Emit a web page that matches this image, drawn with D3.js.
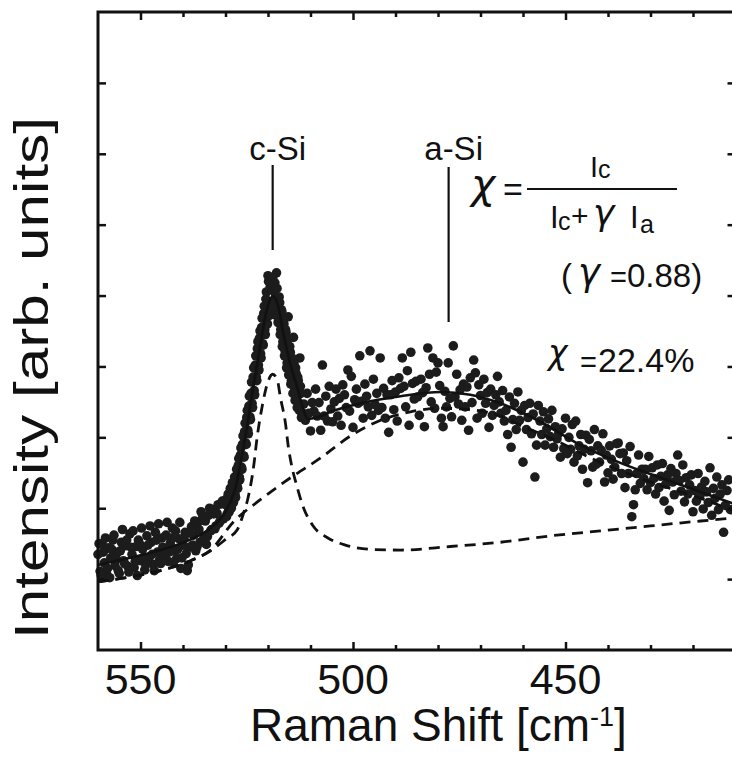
<!DOCTYPE html>
<html><head><meta charset="utf-8">
<script src="https://cdn.jsdelivr.net/npm/d3@7"></script>
<style>
body{margin:0;background:#fff}
svg{display:block}
text{font-family:"Liberation Sans",Arial,Helvetica,sans-serif;fill:#111}
.greek{font-family:"DejaVu Sans",sans-serif;font-style:italic}
</style>
</head><body>
<svg id="chart" width="732" height="766"></svg>
<script>
// ---------------- data ----------------
const xMajorTicks = [550, 500, 450];
const xMinorTicks = [540, 530, 520, 510, 490, 480, 470, 460, 440, 430, 420];
const yTicks = [1, 2, 3, 4, 5, 6, 7, 8];

// measured spectrum [Raman shift (cm-1), intensity (arb.)]
const spectrumLeft = [[560.0,1.35],[559.5,1.11],[559.0,1.49],[558.5,1.23],[558.0,1.08],[557.5,1.44],[557.0,1.30],[556.5,1.55],[556.0,1.19],[555.5,1.37],[555.0,1.08],[554.5,1.52],[554.0,1.26],[553.5,1.47],[553.0,1.18],[552.5,1.64],[552.0,1.35],[551.5,1.16],[551.0,1.46],[550.5,1.55],[550.0,1.26],[549.5,1.42],[549.0,1.13],[548.5,1.61],[548.0,1.30],[547.5,1.52],[547.0,1.21],[546.5,1.66],[546.0,1.38],[545.5,1.27],[545.0,1.58],[544.5,1.33],[544.0,1.62],[543.5,1.25],[543.0,1.51],[542.5,1.72],[542.0,1.40],[541.5,1.29],[541.0,1.57],[540.5,1.15],[540.0,1.48],[539.5,1.66],[539.0,1.12],[538.5,1.45],[538.0,1.74],[537.5,1.62],[537.0,1.40],[536.5,1.80],[536.0,1.52],[535.5,1.85],[535.0,1.60],[534.5,1.49],[534.0,1.90],[533.5,1.68],[533.0,1.98],[532.5,1.71],[532.0,1.93],[531.5,1.79],[531.0,2.06],[530.5,1.85]];
const spectrumLeftB = [[559.75,1.50],[559.25,1.05],[558.75,1.38],[558.25,1.58],[557.75,1.15],[557.25,1.02],[556.75,1.42],[556.25,1.62],[555.75,1.28],[555.25,1.12],[554.75,1.40],[554.25,1.70],[553.75,1.22],[553.25,1.55],[552.75,1.10],[552.25,1.45],[551.75,1.68],[551.25,1.25],[550.75,1.05],[550.25,1.50],[549.75,1.72],[549.25,1.30],[548.75,1.20],[548.25,1.48],[547.75,1.75],[547.25,1.35],[546.75,1.12],[546.25,1.55],[545.75,1.78],[545.25,1.22],[544.75,1.45],[544.25,1.30],[543.75,1.80],[543.25,1.38],[542.75,1.58],[542.25,1.24],[541.75,1.68],[541.25,1.42],[540.75,1.80],[540.25,1.30],[539.75,1.58],[539.25,1.36],[538.75,1.20],[538.25,1.65],[537.75,1.48],[537.25,1.82],[536.75,1.45],[536.25,1.70],[535.75,1.95],[535.25,1.55],[534.75,1.82],[534.25,1.60],[533.75,2.00],[533.25,1.70],[532.75,1.92],[532.25,1.75],[531.75,2.05],[531.25,1.82],[530.75,2.10]];
const spectrumPeak = [[530.0,2.05],[529.75,1.88],[529.5,2.15],[529.25,1.97],[529.0,2.22],[528.75,2.02],[528.5,2.30],[528.25,2.11],[528.0,2.38],[527.75,2.19],[527.5,2.45],[527.25,2.31],[527.0,2.60],[526.75,2.44],[526.5,2.75],[526.25,2.58],[526.0,2.90],[525.75,2.74],[525.5,3.08],[525.25,2.92],[525.0,3.28],[524.75,3.10],[524.5,3.44],[524.25,3.29],[524.0,3.62],[523.75,3.48],[523.5,3.85],[523.25,3.66],[523.0,4.02],[522.75,3.85],[522.5,4.25],[522.25,4.02],[522.0,4.40],[521.75,4.18],[521.5,4.55],[521.25,4.32],[521.0,4.75],[520.75,4.52],[520.5,4.95],[520.25,4.70],[520.0,5.28],[519.75,4.82],[519.5,5.12],[519.25,4.86],[519.0,5.15],[518.75,4.92],[518.5,5.05],[518.25,4.80],[518.0,5.32],[517.75,4.88],[517.5,4.70],[517.25,4.90],[517.0,4.52],[516.75,4.78],[516.5,4.35],[516.25,4.60],[516.0,4.22],[515.75,4.48],[515.5,4.05],[515.25,4.70],[515.0,3.95],[514.75,4.20],[514.5,3.80],[514.25,4.05],[514.0,4.41],[513.75,3.70],[513.5,3.98],[513.25,3.58],[513.0,3.85],[512.75,3.45],[512.5,4.12],[512.25,3.62],[512.0,3.35]];
const spectrumPeakB = [[529.875,2.12],[529.625,1.92],[529.375,2.20],[529.125,1.95],[528.875,2.28],[528.625,2.00],[528.375,2.36],[528.125,2.08],[527.875,2.44],[527.625,2.15],[527.375,2.55],[527.125,2.28],[526.875,2.70],[526.625,2.40],[526.375,2.85],[526.125,2.55],[525.875,3.02],[525.625,2.72],[525.375,3.20],[525.125,2.90],[524.875,3.38],[524.625,3.05],[524.375,3.58],[524.125,3.25],[523.875,3.78],[523.625,3.42],[523.375,3.98],[523.125,3.60],[522.875,4.15],[522.625,3.80],[522.375,4.35],[522.125,3.95],[521.875,4.50],[521.625,4.12],[521.375,4.68],[521.125,4.30],[520.875,4.85],[520.625,4.45],[520.375,5.05],[520.125,4.60],[519.875,5.20],[519.625,4.72],[519.375,5.22],[519.125,4.78],[518.875,5.25],[518.625,4.85],[518.375,5.18],[518.125,4.72],[517.875,5.10],[517.625,4.62],[517.375,4.98],[517.125,4.45],[516.875,4.80],[516.625,4.28],[516.375,4.66],[516.125,4.15],[515.875,4.52],[515.625,3.98],[515.375,4.38],[515.125,3.88],[514.875,4.28],[514.625,3.75],[514.375,4.12],[514.125,3.62],[513.875,4.05],[513.625,3.52],[513.375,3.90],[513.125,3.42],[512.875,3.80],[512.625,3.38],[512.375,3.72],[512.125,3.28]];
const spectrumBroad1 = [[511.6,3.47],[511.2,3.24],[510.8,3.62],[510.4,3.34],[510.0,3.09],[509.6,3.49],[509.2,3.37],[508.8,3.68],[508.4,3.30],[508.0,3.49],[507.6,3.10],[507.2,4.02],[506.8,3.30],[506.4,3.58],[506.0,3.23],[505.6,3.72],[505.2,3.40],[504.8,3.22],[504.4,3.50],[504.0,3.68],[503.6,3.30],[503.2,3.55],[502.8,3.17],[502.4,3.74],[502.0,3.60],[501.6,3.42],[501.2,3.95],[500.8,3.37],[500.4,3.86],[500.0,3.14],[499.6,3.53],[499.2,3.68],[498.8,3.48],[498.4,4.15],[498.0,3.51],[497.6,3.27],[497.2,3.75],[496.8,3.58],[496.4,3.43],[496.0,4.22],[495.6,3.31],[495.2,3.82],[494.8,3.46],[494.4,3.62],[494.0,3.38],[493.6,4.12],[493.2,3.42],[492.8,3.69],[492.4,3.27],[492.0,3.60]];
const spectrumBroad2 = [[491.6,3.07],[491.2,3.60],[490.8,3.80],[490.4,3.39],[490.0,3.64],[489.6,3.23],[489.2,3.84],[488.8,3.69],[488.4,4.12],[488.0,3.72],[487.6,3.43],[487.2,3.94],[486.8,3.17],[486.4,4.20],[486.0,3.76],[485.6,3.54],[485.2,3.79],[484.8,3.57],[484.4,3.31],[484.0,3.82],[483.6,3.63],[483.2,3.15],[482.8,3.70],[482.4,4.26],[482.0,3.89],[481.6,3.50],[481.2,4.12],[480.8,3.41],[480.4,3.92],[480.0,4.05],[479.6,3.73],[479.2,3.27],[478.8,3.15],[478.4,3.65],[478.0,3.43],[477.6,4.05],[477.2,3.55],[476.8,3.29],[476.4,4.29],[476.0,3.57],[475.6,3.89],[475.2,3.47],[474.8,3.67],[474.4,3.24],[474.0,3.75],[473.6,3.43],[473.2,3.71],[472.8,3.10],[472.4,3.84],[472.0,3.49]];
const spectrumBroad3 = [[471.6,4.09],[471.2,3.91],[470.8,3.27],[470.4,3.74],[470.0,3.59],[469.6,3.34],[469.2,3.82],[468.8,3.48],[468.4,3.63],[468.0,3.14],[467.6,3.68],[467.2,3.31],[466.8,3.45],[466.4,3.60],[466.0,3.86],[465.6,3.50],[465.2,3.34],[464.8,3.66],[464.4,3.23],[464.0,3.38],[463.6,3.04],[463.2,3.57],[462.8,2.86],[462.4,3.25],[462.0,3.48],[461.6,3.11],[461.2,3.64],[460.8,3.24],[460.4,3.38],[460.0,2.65],[459.6,3.45],[459.2,3.11],[458.8,3.28],[458.4,3.48],[458.0,3.05],[457.6,3.33],[457.2,2.44],[456.8,2.89],[456.4,3.45],[456.0,3.23],[455.6,3.04],[455.2,3.36],[454.8,2.89],[454.4,3.12],[454.0,3.26],[453.6,3.01],[453.2,3.38],[452.8,2.86],[452.4,3.15],[452.0,2.98]];
const spectrumBroad4 = [[451.6,3.06],[451.2,2.72],[450.8,3.12],[450.4,2.84],[450.0,3.27],[449.6,2.77],[449.2,3.00],[448.8,2.83],[448.4,3.18],[448.0,2.65],[447.6,3.23],[447.2,2.74],[446.8,2.88],[446.4,3.04],[446.0,2.55],[445.6,2.83],[445.2,3.03],[444.8,2.36],[444.4,2.97],[444.0,2.81],[443.6,2.58],[443.2,3.11],[442.8,2.62],[442.4,2.88],[442.0,2.65],[441.6,2.82],[441.2,3.05],[440.8,2.37],[440.4,2.75],[440.0,2.50],[439.6,2.88],[439.2,2.69],[438.8,2.41],[438.4,2.58],[438.0,2.91],[437.6,2.92],[437.2,2.77],[436.8,2.49],[436.4,2.78],[436.0,2.29],[435.6,2.67],[435.2,2.49],[434.8,2.87],[434.4,1.88],[434.0,2.05],[433.6,2.26],[433.2,2.49],[432.8,2.75],[432.4,2.35],[432.0,2.55]];
const spectrumBroad5 = [[431.6,2.42],[431.2,2.55],[430.8,2.26],[430.4,2.73],[430.0,2.36],[429.6,2.57],[429.2,2.42],[428.8,2.20],[428.4,2.61],[428.0,2.29],[427.6,2.45],[427.2,2.63],[426.8,2.10],[426.4,2.34],[426.0,2.47],[425.6,1.97],[425.2,2.56],[424.8,2.37],[424.4,2.19],[424.0,2.49],[423.6,2.75],[423.2,2.39],[422.8,2.24],[422.4,2.61],[422.0,2.09],[421.6,2.43],[421.2,2.20],[420.8,2.33],[420.4,2.47],[420.0,1.95],[419.6,2.25],[419.2,2.10],[418.8,2.49],[418.4,2.17],[418.0,2.30],[417.6,1.99],[417.2,2.38],[416.8,2.23],[416.4,2.08],[416.0,2.57],[415.6,1.90],[415.2,2.28],[414.8,2.14],[414.4,2.44],[414.0,1.98],[413.6,2.20],[413.2,2.33],[412.8,1.66],[412.4,2.04],[412.0,2.25],[411.6,2.40],[411.2,1.98]];

// fitted curves
const fitCurve = [[560.1,1.20],[552.4,1.30],[545.3,1.41],[538.2,1.56],[533.5,1.72],[530.0,1.95],[528.8,2.10],[527.6,2.30],[526.5,2.62],[524.8,3.20],[523.4,3.74],[521.8,4.30],[520.4,4.77],[518.9,4.99],[517.8,4.89],[516.4,4.47],[514.7,4.02],[513.1,3.70],[511.8,3.42],[510.7,3.26],[508.5,3.28],[505.3,3.36],[498.2,3.48],[488.8,3.58],[479.4,3.64],[472.4,3.60],[465.3,3.48],[455.9,3.22],[446.5,2.89],[437.1,2.64],[427.6,2.43],[418.2,2.23],[410.7,2.07]];
const cSiCurve = [[560.1,0.96],[552.4,1.03],[545.3,1.12],[538.2,1.26],[533.5,1.40],[530.0,1.56],[527.2,1.70],[525.8,1.92],[524.8,2.12],[523.4,2.58],[522.6,2.98],[521.3,3.46],[520.1,3.77],[518.9,3.89],[517.8,3.81],[517.1,3.57],[515.9,3.20],[515.2,2.86],[514.5,2.62],[513.3,2.33],[511.6,2.00],[509.5,1.76],[505.9,1.58],[501.8,1.48],[495.9,1.42],[488.8,1.41],[477.1,1.46],[465.3,1.52],[453.5,1.61],[441.8,1.68],[430.0,1.75],[418.2,1.82],[410.7,1.86]];
const aSiCurve = [[560.1,0.96],[552.4,1.03],[545.3,1.12],[538.2,1.26],[533.5,1.41],[528.1,1.81],[521.8,2.12],[514.7,2.43],[507.6,2.71],[500.6,3.02],[493.5,3.24],[486.5,3.36],[479.4,3.41],[472.4,3.39],[465.3,3.30],[460.6,3.17],[452.4,2.96],[444.1,2.71],[430.0,2.37],[418.2,2.14],[410.7,1.97]];

const peakMarks = [{label:"c-Si", shift:518.9, top:165, bottom:250},{label:"a-Si", shift:477.5, top:167, bottom:322}];

// ---------------- drawing ----------------
const svg = d3.select("#chart");
const W = 732, H = 766;
const L = 98, R = 735.5, T = 12, B = 650;
const x = d3.scaleLinear().domain([560, 410]).range([L, R]);
const y = d3.scaleLinear().domain([0, 9]).range([B, T]);

svg.append("rect").attr("width", W).attr("height", H).attr("fill", "#fff");

const spectrum = [].concat(spectrumLeft, spectrumLeftB, spectrumPeak, spectrumPeakB, spectrumBroad1, spectrumBroad2, spectrumBroad3, spectrumBroad4, spectrumBroad5);

// dots
svg.append("g").selectAll("circle").data(spectrum).join("circle")
  .attr("cx", d => x(d[0])).attr("cy", d => y(d[1])).attr("r", 4.8).attr("fill", "#1c1c1c");

const line = d3.line().x(d => x(d[0])).y(d => y(d[1])).curve(d3.curveMonotoneX);
svg.append("path").attr("d", line(cSiCurve)).attr("fill","none").attr("stroke","#111").attr("stroke-width",2.8).attr("stroke-dasharray","11,7");
svg.append("path").attr("d", line(aSiCurve)).attr("fill","none").attr("stroke","#111").attr("stroke-width",2.8).attr("stroke-dasharray","11,7");
svg.append("path").attr("d", line(fitCurve)).attr("fill","none").attr("stroke","#111").attr("stroke-width",2.6);

// axes (ticks inward)
function styleAxis(g){ g.select(".domain").remove(); g.selectAll("line").attr("stroke","#111").attr("stroke-width",2.5); g.selectAll("text").remove(); }
svg.append("g").attr("transform",`translate(0,${B})`).call(d3.axisBottom(x).tickValues(xMajorTicks).tickSize(-8)).call(styleAxis);
svg.append("g").attr("transform",`translate(0,${B})`).call(d3.axisBottom(x).tickValues(xMinorTicks).tickSize(-5)).call(styleAxis);
svg.append("g").attr("transform",`translate(0,${T})`).call(d3.axisTop(x).tickValues(xMajorTicks).tickSize(-8)).call(styleAxis);
svg.append("g").attr("transform",`translate(0,${T})`).call(d3.axisTop(x).tickValues(xMinorTicks).tickSize(-5)).call(styleAxis);
svg.append("g").attr("transform",`translate(${L},0)`).call(d3.axisLeft(y).tickValues(yTicks).tickSize(-8)).call(styleAxis);
svg.append("g").attr("transform",`translate(${R},0)`).call(d3.axisRight(y).tickValues(yTicks).tickSize(-8)).call(styleAxis);

// frame
svg.append("rect").attr("x",L).attr("y",T).attr("width",R-L).attr("height",B-T)
  .attr("fill","none").attr("stroke","#111").attr("stroke-width",3);

// tick labels
svg.append("g").selectAll("text").data(xMajorTicks).join("text")
  .attr("x", d => x(d)).attr("y", 694).attr("text-anchor","middle")
  .attr("font-size", 43).text(d => d);

// axis titles
const xt = svg.append("text").attr("x", 250).attr("y", 741).attr("font-size", 46);
xt.append("tspan").text("Raman Shift [cm");
xt.append("tspan").attr("font-size", 27).attr("dy", -15).text("-1");
xt.append("tspan").attr("dy", 15).text("]");

svg.append("text").attr("transform","translate(48,378) rotate(-90)")
  .attr("text-anchor","middle").attr("font-size", 48)
  .attr("textLength", 522).attr("lengthAdjust","spacingAndGlyphs")
  .text("Intensity [arb. units]");

// peak markers
peakMarks.forEach(m => {
  svg.append("line").attr("x1", x(m.shift)).attr("x2", x(m.shift)).attr("y1", m.top).attr("y2", m.bottom)
    .attr("stroke","#111").attr("stroke-width",2.2);
  svg.append("text").attr("x", x(m.shift) + 5).attr("y", 160).attr("text-anchor","middle")
    .attr("font-size", 33).text(m.label);
});

// formula
function t(xp, yp, s, size, cls){ return svg.append("text").attr("x",xp).attr("y",yp).attr("font-size",size).attr("class",cls||null).text(s); }
t(471, 198, "χ", 41, "greek");
t(503, 201, "=", 34);
svg.append("line").attr("x1",527).attr("x2",677).attr("y1",189).attr("y2",189).attr("stroke","#111").attr("stroke-width",2);
t(590, 177, "I", 29); t(598, 178, "c", 25);
t(550, 228, "I", 31); t(558, 230, "c", 25); t(571, 226, "+", 30);
t(593, 225, "γ", 36, "greek");
t(630, 228, "I", 31); t(640, 233, "a", 25);
t(561, 287, "(", 33); t(578, 285, "γ", 37, "greek"); t(610, 287, "=", 29); t(627, 287, "0.88)", 33);
t(548, 364, "χ", 33, "greek"); t(580, 372, "=", 29); t(598, 372, "22.4%", 34);
</script>
</body></html>
